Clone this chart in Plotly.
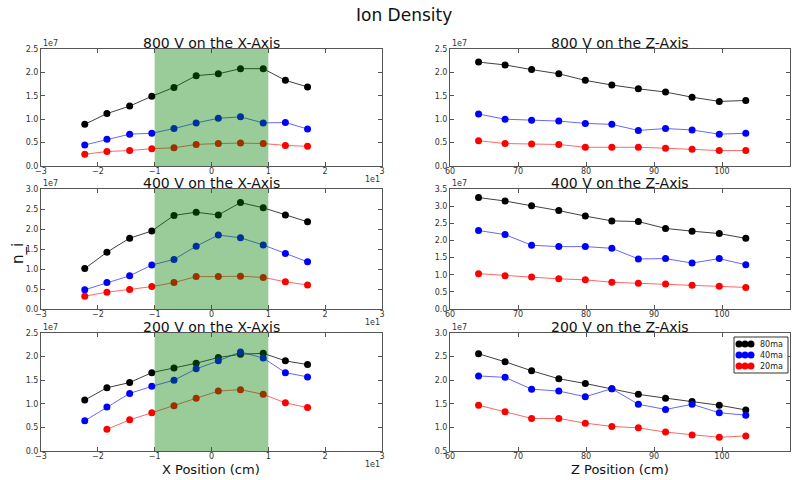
import plotly.graph_objects as go

# ---------------- data (densities in units of 1e7) ----------------
x_pos_cm = [-22.3, -18.4, -14.4, -10.5, -6.6, -2.7, 1.2, 5.1, 9.1, 13.0, 16.9]
z_pos_cm = [64.2, 68.1, 72.0, 76.0, 79.9, 83.8, 87.7, 91.7, 95.6, 99.6, 103.5]
currents = ["80ma", "40ma", "20ma"]

v800_x_80 = [0.89, 1.12, 1.28, 1.49, 1.68, 1.93, 1.97, 2.08, 2.08, 1.83, 1.69]
v800_x_40 = [0.45, 0.57, 0.68, 0.70, 0.80, 0.92, 1.02, 1.05, 0.92, 0.93, 0.79]
v800_x_20 = [0.25, 0.31, 0.33, 0.37, 0.39, 0.46, 0.48, 0.49, 0.48, 0.44, 0.42]

v400_x_80 = [1.01, 1.42, 1.77, 1.95, 2.34, 2.42, 2.35, 2.66, 2.53, 2.35, 2.18]
v400_x_40 = [0.48, 0.66, 0.83, 1.10, 1.24, 1.57, 1.85, 1.78, 1.60, 1.39, 1.18]
v400_x_20 = [0.32, 0.42, 0.49, 0.56, 0.66, 0.81, 0.81, 0.82, 0.79, 0.68, 0.60]

v200_x_80 = [1.08, 1.34, 1.45, 1.66, 1.76, 1.86, 1.98, 2.05, 2.07, 1.91, 1.83]
v200_x_40 = [0.64, 0.93, 1.22, 1.37, 1.50, 1.74, 1.91, 2.10, 1.97, 1.66, 1.57]
v200_x_20 = [None, 0.46, 0.66, 0.81, 0.96, 1.12, 1.27, 1.30, 1.20, 1.02, 0.92]

v800_z_80 = [2.22, 2.16, 2.06, 1.97, 1.83, 1.73, 1.65, 1.58, 1.47, 1.38, 1.40]
v800_z_40 = [1.11, 1.00, 0.98, 0.96, 0.91, 0.89, 0.76, 0.80, 0.77, 0.68, 0.70]
v800_z_20 = [0.54, 0.48, 0.47, 0.46, 0.40, 0.40, 0.40, 0.38, 0.36, 0.33, 0.33]

v400_z_80 = [3.25, 3.15, 3.01, 2.87, 2.71, 2.57, 2.55, 2.35, 2.27, 2.20, 2.06]
v400_z_40 = [2.29, 2.17, 1.86, 1.82, 1.82, 1.77, 1.46, 1.47, 1.34, 1.47, 1.29]
v400_z_20 = [1.03, 0.97, 0.93, 0.88, 0.85, 0.78, 0.75, 0.73, 0.69, 0.66, 0.63]

v200_z_80 = [2.56, 2.39, 2.20, 2.03, 1.93, 1.82, 1.70, 1.62, 1.55, 1.47, 1.37]
v200_z_40 = [2.09, 2.06, 1.81, 1.77, 1.65, 1.82, 1.49, 1.38, 1.49, 1.31, 1.26]
v200_z_20 = [1.47, 1.33, 1.19, 1.19, 1.09, 1.02, 0.99, 0.90, 0.84, 0.79, 0.82]

panel_titles = ["800 V on the X-Axis", "800 V on the Z-Axis",
                "400 V on the X-Axis", "400 V on the Z-Axis",
                "200 V on the X-Axis", "200 V on the Z-Axis"]
x_tick_vals = [-30, -20, -10, 0, 10, 20, 30]
x_tick_text = ["\u22123", "\u22122", "\u22121", "0", "1", "2", "3"]
z_tick_vals = [60, 70, 80, 90, 100, 110]

panels = [
    (x_pos_cm, [v800_x_80, v800_x_40, v800_x_20], [0, 2.5]),
    (z_pos_cm, [v800_z_80, v800_z_40, v800_z_20], [0, 2.5]),
    (x_pos_cm, [v400_x_80, v400_x_40, v400_x_20], [0, 3.0]),
    (z_pos_cm, [v400_z_80, v400_z_40, v400_z_20], [0, 3.5]),
    (x_pos_cm, [v200_x_80, v200_x_40, v200_x_20], [0, 2.5]),
    (z_pos_cm, [v200_z_80, v200_z_40, v200_z_20], [0.5, 3.0]),
]

marker_colors = ["#000000", "#0000ff", "#ff0000"]
line_colors = ["rgba(0,0,0,0.75)", "rgba(0,0,255,0.6)", "rgba(255,0,0,0.6)"]

W, H = 793, 480
col_dom = [[41 / W, 382 / W], [450 / W, 790 / W]]
row_dom = [[1 - 166 / H, 1 - 49 / H], [1 - 309 / H, 1 - 189 / H], [1 - 451 / H, 1 - 333 / H]]

FONT = "DejaVu Sans"
fig = go.Figure()
layout = dict(
    width=W, height=H, margin=dict(l=0, r=0, t=0, b=0, autoexpand=False),
    paper_bgcolor="white", plot_bgcolor="white",
    font=dict(family=FONT, color="#222"),
    showlegend=False,
)
annotations = []
shapes = []

for i, (xs, series, yr) in enumerate(panels):
    r, c = divmod(i, 2)
    n = i + 1
    xa = "x" if n == 1 else f"x{n}"
    ya = "y" if n == 1 else f"y{n}"
    for k, vals in enumerate(series):
        fig.add_trace(go.Scatter(
            x=xs, y=vals, mode="lines+markers", name=currents[k],
            xaxis=xa, yaxis=ya, showlegend=False,
            line=dict(color=line_colors[k], width=1),
            marker=dict(color=marker_colors[k], size=7, line=dict(width=0)),
        ))
    axstyle = dict(showline=True, linecolor="#555", linewidth=1, mirror="allticks",
                   ticks="inside", ticklen=4, tickcolor="#555", showgrid=False,
                   zeroline=False, automargin=False,
                   tickfont=dict(size=8, color="#333", family=FONT))
    if c == 0:
        xaxis = dict(domain=col_dom[0], range=[-30, 30], tickvals=x_tick_vals,
                     ticktext=x_tick_text, anchor=ya, ticklabelstandoff=-3, **axstyle)
    else:
        xaxis = dict(domain=col_dom[1], range=[60, 110], tickvals=z_tick_vals,
                     anchor=ya, ticklabelstandoff=-3, **axstyle)
    yaxis = dict(domain=row_dom[r], range=yr, dtick=0.5, tickformat=".1f",
                 anchor=xa, **axstyle)
    layout["xaxis" if n == 1 else f"xaxis{n}"] = xaxis
    layout["yaxis" if n == 1 else f"yaxis{n}"] = yaxis

    x0, x1 = col_dom[c]
    y0, y1 = row_dom[r]
    annotations.append(dict(text=panel_titles[i], x=(x0 + x1) / 2, y=y1, xref="paper", yref="paper",
                            xanchor="center", yanchor="bottom", yshift=-4, showarrow=False,
                            font=dict(size=14, family=FONT, color="#111")))
    annotations.append(dict(text="1e7", x=x0, y=y1, xref="paper", yref="paper",
                            xanchor="left", yanchor="bottom", showarrow=False, yshift=-1,
                            font=dict(size=8, family=FONT, color="#333")))
    if c == 0:
        annotations.append(dict(text="1e1", x=x1, y=y0, xref="paper", yref="paper",
                                xanchor="right", yanchor="top", showarrow=False, yshift=-7,
                                font=dict(size=8, family=FONT, color="#333")))
        shapes.append(dict(type="rect", xref=xa, yref=f"{ya} domain", x0=-10, x1=10, y0=0, y1=1,
                           fillcolor="green", opacity=0.4, line=dict(width=0), layer="above"))

# ---- legend (matplotlib-style box in the bottom-right panel) ----
lg_x0, lg_x1, lg_y0, lg_y1 = 734, 788, 337, 373
shapes.append(dict(type="rect", xref="paper", yref="paper",
                   x0=lg_x0 / W, x1=lg_x1 / W, y0=1 - lg_y1 / H, y1=1 - lg_y0 / H,
                   fillcolor="white", line=dict(color="#333", width=1), layer="above"))
for k, name in enumerate(currents):
    yy = 1 - (344 + 11 * k) / H
    shapes.append(dict(type="line", xref="paper", yref="paper", x0=739 / W, x1=751 / W,
                       y0=yy, y1=yy, line=dict(color=line_colors[k], width=1), layer="above"))
    for px in (739, 745, 751):
        shapes.append(dict(type="circle", xref="paper", yref="paper",
                           xsizemode="pixel", ysizemode="pixel",
                           xanchor=px / W, yanchor=yy, x0=-3.5, x1=3.5, y0=-3.5, y1=3.5,
                           fillcolor=marker_colors[k], line=dict(width=0), layer="above"))
    annotations.append(dict(text=name, x=758 / W, y=yy, xref="paper", yref="paper",
                            xanchor="left", yanchor="middle", showarrow=False,
                            font=dict(size=8, family=FONT, color="#222")))

annotations.append(dict(text="Ion Density", x=404 / W, y=1 - 15 / H, xref="paper", yref="paper",
                        xanchor="center", yanchor="middle", showarrow=False,
                        font=dict(size=17, family=FONT, color="#111")))
annotations.append(dict(text="X Position (cm)", x=sum(col_dom[0]) / 2, y=1 - 469 / H,
                        xref="paper", yref="paper", xanchor="center", yanchor="middle",
                        showarrow=False, font=dict(size=13, family=FONT, color="#111")))
annotations.append(dict(text="Z Position (cm)", x=sum(col_dom[1]) / 2, y=1 - 469 / H,
                        xref="paper", yref="paper", xanchor="center", yanchor="middle",
                        showarrow=False, font=dict(size=13, family=FONT, color="#111")))
annotations.append(dict(text="n_i", x=18 / W, y=1 - 254 / H, xref="paper", yref="paper",
                        xanchor="center", yanchor="middle", textangle=-90,
                        showarrow=False, font=dict(size=15, family=FONT, color="#111")))

layout["annotations"] = annotations
layout["shapes"] = shapes
fig.update_layout(**layout)
fig.write_html("out.html")
